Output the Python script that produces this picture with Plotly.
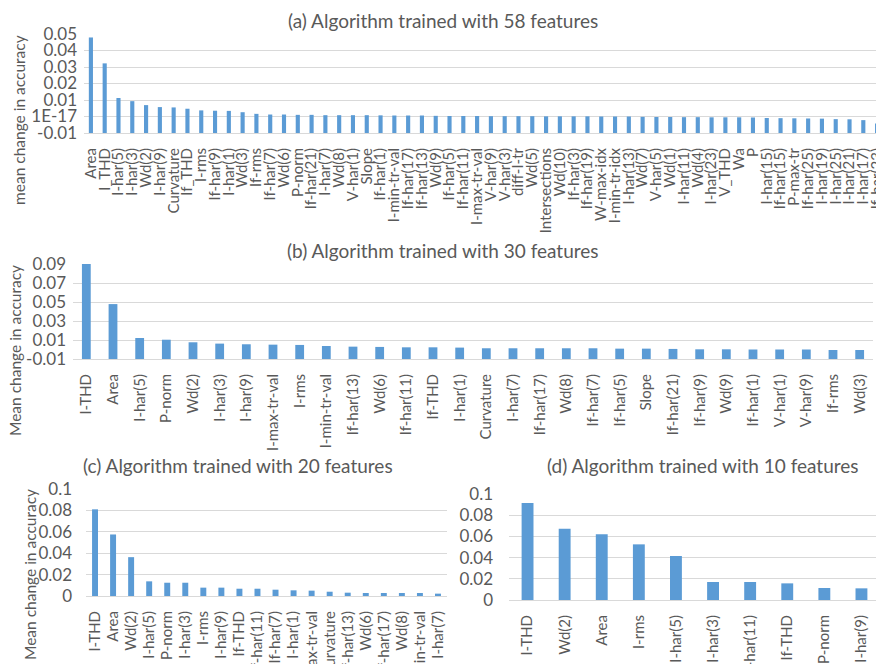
import plotly.graph_objects as go

# feature importance, four training runs
A_LABELS = ["Area", "I_THD", "I-har(5)", "I-har(3)", "Wd(2)", "I-har(9)", "Curvature", "If_THD",
            "I-rms", "If-har(9)", "I-har(1)", "Wd(3)", "If-rms", "If-har(7)", "Wd(6)", "P-norm",
            "If-har(21)", "I-har(7)", "Wd(8)", "V-har(1)", "Slope", "If-har(1)", "I-min-tr-val",
            "If-har(17)", "If-har(13)", "Wd(9)", "If-har(5)", "If-har(11)", "I-max-tr-val",
            "V-har(9)", "V-har(3)", "diff-I-tr", "Wd(5)", "Intersections", "Wd(10)", "If-har(3)",
            "If-har(19)", "W-max-idx", "I-min-tr-idx", "I-har(13)", "Wd(7)", "V-har(5)", "Wd(1)",
            "I-har(11)", "Wd(4)", "I-har(23)", "V_THD", "Wa", "P", "I-har(15)", "If-har(15)",
            "P-max-tr", "If-har(25)", "I-har(19)", "I-har(25)", "I-har(21)", "I-har(17)", "If-har(23)"]
A_VALUES = [0.0479, 0.0322, 0.0112, 0.0093, 0.0069, 0.0057, 0.0055, 0.0047, 0.0037, 0.0035,
            0.0034, 0.0026, 0.0016, 0.0012, 0.0012, 0.0010, 0.0010, 0.0008, 0.0008, 0.0008,
            0.0008, 0.0007, 0.0006, 0.0006, 0.0006, 0.0004, 0.0003, 0.0003, 0.0003, 0.0002,
            0.0002, 0.0002, 0.0002, 0.0001, 0.0001, 0.0001, 0.0001, 0.0, 0.0, 0.0,
            -0.0002, -0.0003, -0.0003, -0.0004, -0.0004, -0.0005, -0.0005, -0.0005, -0.0006, -0.0009,
            -0.0010, -0.0011, -0.0012, -0.0013, -0.0016, -0.0017, -0.0022, -0.0043]
A_TICKS = [-0.01, 0.0, 0.01, 0.02, 0.03, 0.04, 0.05]
A_TICK_TEXT = ["-0.01", "1E-17", "0.01", "0.02", "0.03", "0.04", "0.05"]

B_LABELS = ["I-THD", "Area", "I-har(5)", "P-norm", "Wd(2)", "I-har(3)", "I-har(9)", "I-max-tr-val",
            "I-rms", "I-min-tr-val", "If-har(13)", "Wd(6)", "If-har(11)", "If-THD", "I-har(1)",
            "Curvature", "I-har(7)", "If-har(17)", "Wd(8)", "If-har(7)", "If-har(5)", "Slope",
            "If-har(21)", "If-har(9)", "Wd(9)", "If-har(1)", "V-har(1)", "V-har(9)", "If-rms", "Wd(3)"]
B_VALUES = [0.0900, 0.0478, 0.0121, 0.0103, 0.0076, 0.0062, 0.0055, 0.0051, 0.0048, 0.0037,
            0.0030, 0.0027, 0.0023, 0.0023, 0.0020, 0.0013, 0.0013, 0.0013, 0.0013, 0.0013,
            0.0009, 0.0009, 0.0006, 0.0002, 0.0002, 0.0000, 0.0000, 0.0000, -0.0005, -0.0005]
B_TICKS = [-0.01, 0.01, 0.03, 0.05, 0.07, 0.09]
B_TICK_TEXT = ["-0.01", "0.01", "0.03", "0.05", "0.07", "0.09"]

C_LABELS = ["I-THD", "Area", "Wd(2)", "I-har(5)", "P-norm", "I-har(3)", "I-rms", "I-har(9)", "If-THD",
            "If-har(11)", "If-har(7)", "I-har(1)", "I-max-tr-val", "Curvature", "If-har(13)", "Wd(6)",
            "If-har(17)", "Wd(8)", "I-min-tr-val", "I-har(7)"]
C_VALUES = [0.0810, 0.0575, 0.0363, 0.0137, 0.0124, 0.0124, 0.0078, 0.0078, 0.0068, 0.0068,
            0.0059, 0.0053, 0.0050, 0.0040, 0.0031, 0.0028, 0.0028, 0.0028, 0.0028, 0.0022]

D_LABELS = ["I-THD", "Wd(2)", "Area", "I-rms", "I-har(5)", "I-har(3)", "I-har(11)", "If-THD",
            "P-norm", "I-har(9)"]
D_VALUES = [0.0915, 0.0673, 0.0620, 0.0525, 0.0415, 0.0170, 0.0170, 0.0157, 0.0113, 0.0110]

CD_TICKS = [0, 0.02, 0.04, 0.06, 0.08, 0.1]
CD_TICK_TEXT = ["0", "0.02", "0.04", "0.06", "0.08", "0.1"]

# the page body keeps its default 8px margin, so the figure is drawn 8px in
OFF = 8
W, H = 884 - OFF, 664 - OFF
BAR = "#5b9bd5"
GRID = "#d9d9d9"
TXT = "#595959"
FONT = "Lato"


def fx(p):
    return (p - OFF) / W


def fy(p):
    return 1 - (p - OFF) / H


# labels, values, bar base, x px span, y px span (bottom, top), y range, ticks, tick text,
# bar width, y label standoff
panels = [
    (A_LABELS, A_VALUES, -0.01, (84, 884), (133, 34), [-0.01, 0.05], A_TICKS, A_TICK_TEXT, 0.3, 6),
    (B_LABELS, B_VALUES, -0.01, (73, 873), (359, 264), [-0.01, 0.09], B_TICKS, B_TICK_TEXT, 0.33, 6),
    (C_LABELS, C_VALUES, 0.0, (86, 447), (596, 489), [0, 0.1], CD_TICKS, CD_TICK_TEXT, 0.33, 13),
    (D_LABELS, D_VALUES, 0.0, (509, 880), (600, 494), [0, 0.1], CD_TICKS, CD_TICK_TEXT, 0.32, 15),
]

fig = go.Figure()
layout_axes = {}
for i, (labels, values, base, xs, ys, yr, tv, tt, bw, ysd) in enumerate(panels, start=1):
    sfx = "" if i == 1 else str(i)
    fig.add_trace(go.Bar(
        x=labels,
        y=[v - base for v in values],
        base=base,
        width=bw,
        marker=dict(color=BAR, line=dict(width=0)),
        xaxis="x" + sfx,
        yaxis="y" + sfx,
        showlegend=False,
    ))
    layout_axes["xaxis" + sfx] = dict(
        domain=[fx(xs[0]), min(fx(xs[1]), 1.0)],
        anchor="y" + sfx,
        type="category",
        range=[-0.5, len(labels) - 0.5],
        tickmode="array",
        tickvals=labels,
        tickangle=-90,
        tickfont=dict(size=15, color=TXT, family=FONT),
        showgrid=False,
        showline=True,
        linecolor=GRID,
        linewidth=1,
        ticks="",
        ticklabelstandoff=8,
        fixedrange=True,
    )
    layout_axes["yaxis" + sfx] = dict(
        domain=[fy(ys[0]), fy(ys[1])],
        anchor="x" + sfx,
        range=yr,
        tickmode="array",
        tickvals=tv,
        ticktext=tt,
        tickfont=dict(size=17, color=TXT, family=FONT),
        showgrid=True,
        gridcolor=GRID,
        gridwidth=1,
        zeroline=False,
        showline=False,
        ticks="",
        ticklabelstandoff=ysd,
        fixedrange=True,
    )

titles = [
    ("(a) Algorithm trained with 58 features", 443, 20),
    ("(b) Algorithm trained with 30 features", 443, 250),
    ("(c) Algorithm trained with 20 features", 238, 466),
    ("(d) Algorithm trained with 10 features", 703, 466),
]
annotations = []
for text, x, y in titles:
    annotations.append(dict(
        text=text, x=fx(x), y=fy(y), xref="paper", yref="paper",
        xanchor="center", yanchor="middle", showarrow=False,
        font=dict(size=19, color=TXT, family=FONT),
    ))

ytitles = [
    ("mean change in accuracy", 19, 120),
    ("Mean change in accuracy", 15, 351),
    ("Mean change in accuracy", 30, 575),
]
for text, x, y in ytitles:
    annotations.append(dict(
        text=text, x=fx(x), y=fy(y), xref="paper", yref="paper",
        xanchor="center", yanchor="middle", showarrow=False, textangle=-90,
        font=dict(size=15.5, color=TXT, family=FONT),
    ))

fig.update_layout(
    width=W,
    height=H,
    margin=dict(l=0, r=0, t=0, b=0),
    template="none",
    paper_bgcolor="white",
    plot_bgcolor="white",
    font=dict(family=FONT, color=TXT),
    annotations=annotations,
    showlegend=False,
    **layout_axes,
)

fig.write_html("out.html")
